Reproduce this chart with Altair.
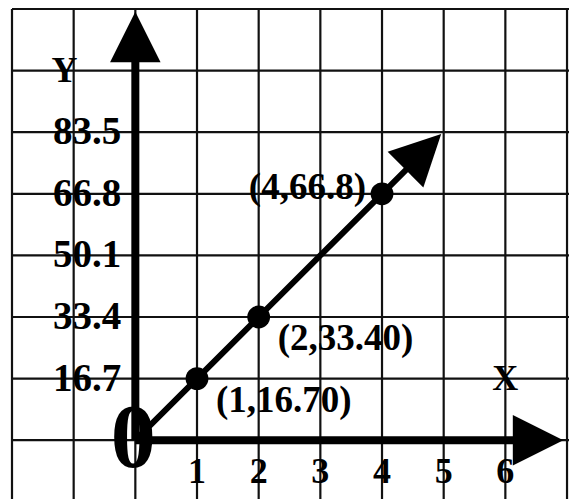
import altair as alt
import pandas as pd

# Plotted points of the straight line y = 16.7 x
pt_x = [1, 2, 4]
pt_y = [16.7, 33.4, 66.8]
pt_labels = ["(1,16.70)", "(2,33.40)", "(4,66.8)"]

# Line from the origin through the points, ending under its arrowhead
line_x = [0, 1, 2, 4, 4.6]
line_y = [0, 16.7, 33.4, 66.8, 76.8]

# Axis tick labels
y_ticks = [16.7, 33.4, 50.1, 66.8, 83.5]
y_tick_text = ["16.7", "33.4", "50.1", "66.8", "83.5"]
x_ticks = [1, 2, 3, 4, 5, 6]

# Graph-paper grid lines (one square = 1 unit on x, 16.7 on y)
grid_x = [-2, -1, 0, 1, 2, 3, 4, 5, 6, 7]
grid_y = [0, 16.7, 33.4, 50.1, 66.8, 83.5, 100.2, 116.9]

# Axis shafts and arrowheads (data units)
shaft_x = [0, 0]
shaft_y = [0, 0]
shaft_x2 = [0, 6.5]
shaft_y2 = [109, 0]
head_x = [0, 6.53, 4.67]
head_y = [109.3, 0, 78.2]
head_angle = [0, 90, 45]

FONT = "Liberation Serif"
xs = alt.Scale(domain=[-2, 7.032], nice=False, zero=False)
ys = alt.Scale(domain=[-15.94, 116.9], nice=False, zero=False)


def X(field="x:Q"):
    return alt.X(field, scale=xs, axis=None)


def Y(field="y:Q"):
    return alt.Y(field, scale=ys, axis=None)


line_df = pd.DataFrame({"x": line_x, "y": line_y})
pts_df = pd.DataFrame({"x": pt_x, "y": pt_y, "label": pt_labels})
ytick_df = pd.DataFrame({"x": [0] * len(y_ticks), "y": y_ticks, "label": y_tick_text})
xtick_df = pd.DataFrame({"x": x_ticks, "y": [0] * len(x_ticks), "label": [str(v) for v in x_ticks]})
shaft_df = pd.DataFrame({"x": shaft_x, "y": shaft_y, "x2": shaft_x2, "y2": shaft_y2})
head_df = pd.DataFrame({"x": head_x, "y": head_y, "angle": head_angle})
gx_df = pd.DataFrame({"x": grid_x})
gy_df = pd.DataFrame({"y": grid_y})

grid_v = alt.Chart(gx_df).mark_rule(color="#111111", strokeWidth=2.2).encode(x=X())
grid_h = alt.Chart(gy_df).mark_rule(color="#111111", strokeWidth=2.2).encode(y=Y())

line = alt.Chart(line_df).mark_line(color="black", strokeWidth=6).encode(
    x=X(), y=Y(), order="x:Q"
)

shafts = alt.Chart(shaft_df).mark_rule(color="black", strokeWidth=8).encode(
    x=X(), y=Y(), x2="x2:Q", y2="y2:Q"
)

heads = alt.Chart(head_df).mark_point(
    shape="M0,-1L1,1L-1,1Z", size=2550, filled=True, color="black", opacity=1
).encode(x=X(), y=Y(), angle=alt.Angle("angle:Q", scale=None))

points = alt.Chart(pts_df).mark_circle(size=520, color="black", opacity=1).encode(
    x=X(), y=Y()
)

text_style = dict(font=FONT, fontWeight="bold", color="black")

labels_right = alt.Chart(pts_df).transform_filter("datum.x < 3").mark_text(
    align="left", baseline="middle", dx=19, dy=22, fontSize=37, **text_style
).encode(x=X(), y=Y(), text="label:N")

labels_left = alt.Chart(pts_df).transform_filter("datum.x > 3").mark_text(
    align="right", baseline="middle", dx=-16, dy=-6, fontSize=37, **text_style
).encode(x=X(), y=Y(), text="label:N")

ytick_text = alt.Chart(ytick_df).mark_text(
    align="right", baseline="middle", dx=-14, fontSize=39, **text_style
).encode(x=X(), y=Y(), text="label:N")

xtick_text = alt.Chart(xtick_df).mark_text(
    align="center", baseline="middle", dy=32, fontSize=36, **text_style
).encode(x=X(), y=Y(), text="label:N")

axis_names = alt.Chart(
    pd.DataFrame({"x": [-1.15, 6], "y": [100.2, 16.7], "label": ["Y", "X"]})
).mark_text(
    align="center", baseline="middle", fontSize=36, **text_style
).encode(x=X(), y=Y(), text="label:N")

origin = alt.Chart(pd.DataFrame({"x": [0], "y": [0], "label": ["0"]})).mark_text(
    align="center", baseline="middle", dx=-2, fontSize=90, **text_style
).encode(x=X(), y=Y(), text="label:N")

chart = alt.layer(
    grid_v, grid_h, line, shafts, heads, points, labels_right, labels_left,
    ytick_text, xtick_text, axis_names, origin,
).properties(
    width=557, height=490,
    autosize=alt.AutoSizeParams(type="none"),
    padding={"left": 12, "top": 9, "right": 0, "bottom": 0},
    background="white",
).configure_view(stroke=None)

chart.save("out.html", embed_options={"renderer": "svg", "actions": False})
